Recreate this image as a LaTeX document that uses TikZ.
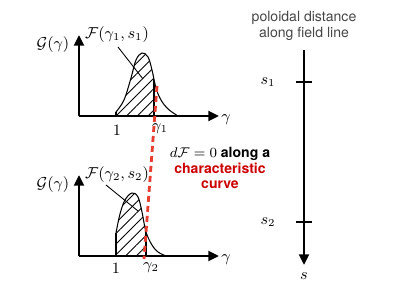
\documentclass[tikz,border=0pt]{standalone}
\usepackage{amsmath}
\usepackage{fontspec}
\setsansfont{TeX Gyre Heros}
\usetikzlibrary{arrows.meta, patterns.meta}
\definecolor{charred}{RGB}{232,62,50}
\definecolor{labelred}{RGB}{204,0,0}
\definecolor{titlegray}{RGB}{70,70,70}

% the two distributions
\newcommand\topdist{plot[smooth, tension=0.6] coordinates {(116,112) (124,100) (131,78) (136,60) (142,53) (148,57) (152,70) (156,88) (161,100) (168,109) (178,116)}}
\newcommand\botdist{plot[smooth, tension=0.6] coordinates {(116,233) (120,214) (125,200) (132,193) (138,197) (142,212) (146,232) (152,245) (158,252) (166,256)}}

\begin{document}
\begin{tikzpicture}[
    x=0.02cm, y=-0.02cm,
    axis/.style={line width=1.6pt, -{Triangle[length=6pt, width=5.5pt]}},
    tickmark/.style={line width=1.4pt},
    dist/.style={line width=0.6pt},
    hatch/.style={pattern={Lines[angle=45, distance=4.3pt, line width=0.5pt]}},
    leader/.style={line width=0.5pt},
    mathlbl/.style={font=\fontsize{9}{10}\selectfont, inner sep=1pt},
    txt/.style={font=\sffamily\fontsize{8}{9.2}\selectfont, align=center},
    charline/.style={charred, line width=1.6pt, dash pattern=on 3.4pt off 2.3pt}
]
    \useasboundingbox (0,0) rectangle (395,296);

    % upper plot: axes
    \coordinate (o1) at (79,116);
    \coordinate (y1) at (79,35);
    \coordinate (x1) at (219,116);
    \draw[axis] (o1) -- (y1);
    \draw[axis] (o1) -- (x1);

    % upper plot: hatched part of F(gamma_1, s_1)
    \begin{scope}
        \clip (116,40) rectangle (154,117);
        \fill[hatch] \topdist -- (116,116) -- cycle;
    \end{scope}
    \begin{scope}
        \clip \topdist -- (116,116) -- cycle;
        \draw[dist] (154,117) -- (154,40);
    \end{scope}
    \draw[dist] (116,116) -- (116,112);
    \draw[dist] \topdist;

    % upper plot: labels
    \node[mathlbl] (g1) at (53,45) {$\mathcal{G}(\gamma)$};
    \node[mathlbl] (f1) at (117,35) {$\mathcal{F}(\gamma_1, s_1)$};
    \coordinate (f1end) at (143,79);
    \draw[leader] (118,47) -- (f1end);
    \node[mathlbl] (one1) at (117,130) {$1$};
    \node[mathlbl] (gam1) at (160,129) {$\gamma_1$};
    \node[mathlbl] (xl1) at (226,120) {$\gamma$};

    % lower plot: axes
    \coordinate (o2) at (79,256);
    \coordinate (y2) at (79,175);
    \coordinate (x2) at (219,256);
    \draw[axis] (o2) -- (y2);
    \draw[axis] (o2) -- (x2);

    % lower plot: hatched part of F(gamma_2, s_2)
    \begin{scope}
        \clip (116,180) rectangle (146,257);
        \fill[hatch] \botdist -- (116,256) -- cycle;
    \end{scope}
    \begin{scope}
        \clip \botdist -- (116,256) -- cycle;
        \draw[dist] (146,257) -- (146,180);
    \end{scope}
    \draw[dist] (116,256) -- (116,233);
    \draw[dist] \botdist;

    % lower plot: labels
    \node[mathlbl] (g2) at (53,185) {$\mathcal{G}(\gamma)$};
    \node[mathlbl] (f2) at (117,175) {$\mathcal{F}(\gamma_2, s_2)$};
    \coordinate (f2end) at (138,211);
    \draw[leader] (106,185) -- (f2end);
    \node[mathlbl] (one2) at (116,268) {$1$};
    \node[mathlbl] (gam2) at (151,268) {$\gamma_2$};
    \node[mathlbl] (xl2) at (226,260) {$\gamma$};

    % characteristic curve
    \coordinate (c1) at (157,86);
    \coordinate (c2) at (144,259);
    \draw[charline] (c1) -- (c2);
    \node[txt, font=\sffamily\bfseries\fontsize{8}{8.6}\selectfont] (note) at (220,168)
        {$d\mathcal{F}=0$ along a\\\textcolor{labelred}{characteristic}\\\textcolor{labelred}{curve}};

    % poloidal distance axis
    \node[txt, titlegray] (title) at (304,26) {poloidal distance\\along field line};
    \coordinate (stop) at (304,50);
    \coordinate (send) at (304,265);
    \draw[axis] (stop) -- (send);
    \draw[tickmark] (296,82) -- (312,82);
    \draw[tickmark] (296,222) -- (312,222);
    \node[mathlbl] (s1) at (268,82) {$s_1$};
    \node[mathlbl] (s2) at (268,222) {$s_2$};
    \node[mathlbl] (s) at (304,276) {$s$};

\end{tikzpicture}
\end{document}
